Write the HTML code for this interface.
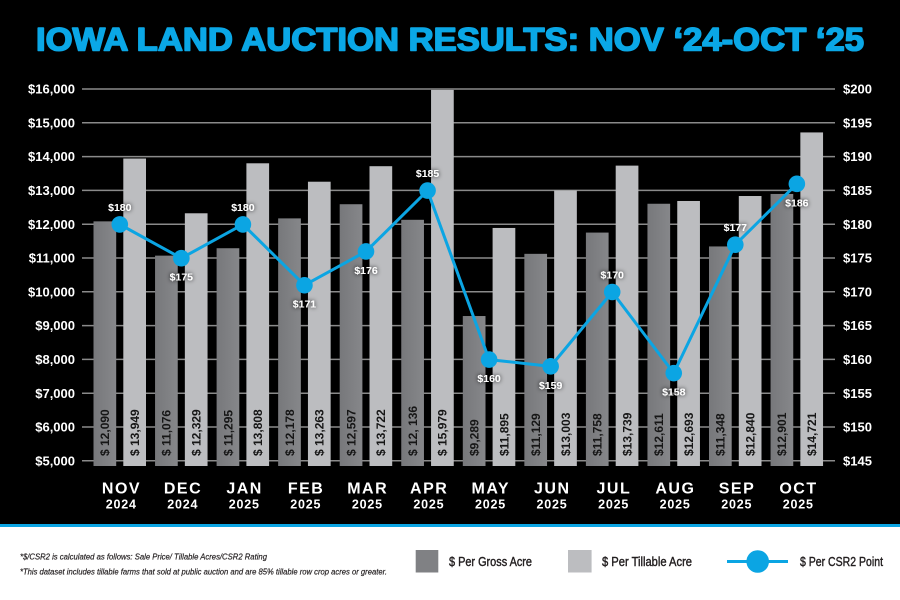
<!DOCTYPE html>
<html><head><meta charset="utf-8"><style>
html,body{margin:0;padding:0;background:#fff;}
svg{display:block;}
text{font-family:"Liberation Sans",Arial,sans-serif;}
</style></head><body>
<svg width="900" height="600" viewBox="0 0 900 600" xmlns="http://www.w3.org/2000/svg">
<defs>
<filter id="glow" x="-50%" y="-80%" width="200%" height="260%">
<feDropShadow dx="0" dy="0" stdDeviation="2" flood-color="#000" flood-opacity="0.9"/>
</filter>
<linearGradient id="gg" x1="0" y1="0" x2="1" y2="0">
<stop offset="0" stop-color="#77787b"/><stop offset="1" stop-color="#86878a"/>
</linearGradient>
</defs>
<rect x="0" y="0" width="900" height="524" fill="#000"/>
<rect x="0" y="524" width="900" height="3" fill="#0ba5e3"/>
<rect x="0" y="527" width="900" height="73" fill="#fff"/>

<text x="36" y="50.5" font-size="32" font-weight="bold" fill="#0aa7e6" stroke="#0aa7e6" stroke-width="1.6" stroke-linejoin="round" textLength="828" lengthAdjust="spacingAndGlyphs">IOWA LAND AUCTION RESULTS: NOV ‘24-OCT ‘25</text>

<g stroke="#8a8a8a" stroke-width="1.5">
<line x1="82" y1="89" x2="835" y2="89"/>
<line x1="82" y1="122.8" x2="835" y2="122.8"/>
<line x1="82" y1="156.6" x2="835" y2="156.6"/>
<line x1="82" y1="190.4" x2="835" y2="190.4"/>
<line x1="82" y1="224.2" x2="835" y2="224.2"/>
<line x1="82" y1="258" x2="835" y2="258"/>
<line x1="82" y1="291.8" x2="835" y2="291.8"/>
<line x1="82" y1="325.6" x2="835" y2="325.6"/>
<line x1="82" y1="359.4" x2="835" y2="359.4"/>
<line x1="82" y1="393.2" x2="835" y2="393.2"/>
<line x1="82" y1="427" x2="835" y2="427"/>
<line x1="82" y1="460.8" x2="835" y2="460.8"/>
</g>

<g fill="#fff" font-size="13" font-weight="bold" text-anchor="end">
<text x="75" y="93.6">$16,000</text>
<text x="75" y="127.4">$15,000</text>
<text x="75" y="161.2">$14,000</text>
<text x="75" y="195">$13,000</text>
<text x="75" y="228.8">$12,000</text>
<text x="75" y="262.6">$11,000</text>
<text x="75" y="296.4">$10,000</text>
<text x="75" y="330.2">$9,000</text>
<text x="75" y="364">$8,000</text>
<text x="75" y="397.8">$7,000</text>
<text x="75" y="431.6">$6,000</text>
<text x="75" y="465.4">$5,000</text>
</g>
<g fill="#fff" font-size="13" font-weight="bold">
<text x="843" y="93.6">$200</text>
<text x="843" y="127.4">$195</text>
<text x="843" y="161.2">$190</text>
<text x="843" y="195">$185</text>
<text x="843" y="228.8">$180</text>
<text x="843" y="262.6">$175</text>
<text x="843" y="296.4">$170</text>
<text x="843" y="330.2">$165</text>
<text x="843" y="364">$160</text>
<text x="843" y="397.8">$155</text>
<text x="843" y="431.6">$150</text>
<text x="843" y="465.4">$145</text>
</g>

<!-- gross bars -->
<g fill="url(#gg)">
<rect x="93.5" y="221.36" width="22.7" height="244.64"/>
<rect x="155.05" y="255.63" width="22.7" height="210.37"/>
<rect x="216.6" y="248.23" width="22.7" height="217.77"/>
<rect x="278.15" y="218.38" width="22.7" height="247.62"/>
<rect x="339.7" y="204.22" width="22.7" height="261.78"/>
<rect x="401.25" y="219.8" width="22.7" height="246.2"/>
<rect x="462.8" y="316.03" width="22.7" height="149.97"/>
<rect x="524.35" y="253.84" width="22.7" height="212.16"/>
<rect x="585.9" y="232.58" width="22.7" height="233.42"/>
<rect x="647.45" y="203.75" width="22.7" height="262.25"/>
<rect x="709" y="246.44" width="22.7" height="219.56"/>
<rect x="770.55" y="193.95" width="22.7" height="272.05"/>
</g>
<!-- tillable bars -->
<g fill="#bcbdc0">
<rect x="123.3" y="158.52" width="22.7" height="307.48"/>
<rect x="184.85" y="213.28" width="22.7" height="252.72"/>
<rect x="246.4" y="163.29" width="22.7" height="302.71"/>
<rect x="307.95" y="181.71" width="22.7" height="284.29"/>
<rect x="369.5" y="166.2" width="22.7" height="299.8"/>
<rect x="431.05" y="89.91" width="22.7" height="376.09"/>
<rect x="492.6" y="227.95" width="22.7" height="238.05"/>
<rect x="554.15" y="190.5" width="22.7" height="275.5"/>
<rect x="615.7" y="165.62" width="22.7" height="300.38"/>
<rect x="677.25" y="200.98" width="22.7" height="265.02"/>
<rect x="738.8" y="196.01" width="22.7" height="269.99"/>
<rect x="800.35" y="132.43" width="22.7" height="333.57"/>
</g>

<!-- value labels -->
<g fill="#161616" font-size="12" font-weight="bold">
<text transform="translate(109.15,456) rotate(-90)">$ 12,090</text>
<text transform="translate(138.95,456) rotate(-90)">$ 13,949</text>
<text transform="translate(170.7,456) rotate(-90)">$ 11,076</text>
<text transform="translate(200.5,456) rotate(-90)">$ 12,329</text>
<text transform="translate(232.25,456) rotate(-90)">$ 11,295</text>
<text transform="translate(262.05,456) rotate(-90)">$ 13,808</text>
<text transform="translate(293.8,456) rotate(-90)">$ 12,178</text>
<text transform="translate(323.6,456) rotate(-90)">$ 13,263</text>
<text transform="translate(355.35,456) rotate(-90)">$ 12,597</text>
<text transform="translate(385.15,456) rotate(-90)">$ 13,722</text>
<text transform="translate(416.9,456) rotate(-90)">$ 12, 136</text>
<text transform="translate(446.7,456) rotate(-90)">$ 15,979</text>
<text transform="translate(478.45,456) rotate(-90)">$9,289</text>
<text transform="translate(508.25,456) rotate(-90)">$11,895</text>
<text transform="translate(540,456) rotate(-90)">$11,129</text>
<text transform="translate(569.8,456) rotate(-90)">$13,003</text>
<text transform="translate(601.55,456) rotate(-90)">$11,758</text>
<text transform="translate(631.35,456) rotate(-90)">$13,739</text>
<text transform="translate(663.1,456) rotate(-90)">$12,611</text>
<text transform="translate(692.9,456) rotate(-90)">$12,693</text>
<text transform="translate(724.65,456) rotate(-90)">$11,348</text>
<text transform="translate(754.45,456) rotate(-90)">$12,840</text>
<text transform="translate(786.2,456) rotate(-90)">$12,901</text>
<text transform="translate(816,456) rotate(-90)">$14,721</text>
</g>

<!-- CSR2 line -->
<polyline fill="none" stroke="#0ba5e3" stroke-width="3" stroke-linejoin="round"
points="119.8,224.4 181.35,258.2 242.9,224.4 304.45,285.24 366,251.44 427.55,190.6 489.1,359.6 550.65,366.36 612.2,292 673.75,373.12 735.3,244.68 796.85,183.84"/>
<g fill="#0ba5e3">
<circle cx="119.8" cy="224.4" r="8.3"/>
<circle cx="181.35" cy="258.2" r="8.3"/>
<circle cx="242.9" cy="224.4" r="8.3"/>
<circle cx="304.45" cy="285.24" r="8.3"/>
<circle cx="366" cy="251.44" r="8.3"/>
<circle cx="427.55" cy="190.6" r="8.3"/>
<circle cx="489.1" cy="359.6" r="8.3"/>
<circle cx="550.65" cy="366.36" r="8.3"/>
<circle cx="612.2" cy="292" r="8.3"/>
<circle cx="673.75" cy="373.12" r="8.3"/>
<circle cx="735.3" cy="244.68" r="8.3"/>
<circle cx="796.85" cy="183.84" r="8.3"/>
</g>
<g fill="#fff" font-size="10.5" font-weight="bold" text-anchor="middle" filter="url(#glow)">
<text x="119.8" y="210.9">$180</text>
<text x="181.35" y="280.7">$175</text>
<text x="242.9" y="210.9">$180</text>
<text x="304.45" y="307.7">$171</text>
<text x="366" y="273.9">$176</text>
<text x="427.55" y="177.1">$185</text>
<text x="489.1" y="382.1">$160</text>
<text x="550.65" y="388.9">$159</text>
<text x="612.2" y="278.5">$170</text>
<text x="673.75" y="395.6">$158</text>
<text x="735.3" y="231.2">$177</text>
<text x="796.85" y="206.3">$186</text>
</g>

<!-- month labels -->
<g fill="#fff" font-weight="bold" text-anchor="middle">
<g font-size="16" letter-spacing="1.5">
<text x="121.5" y="493.3">NOV</text>
<text x="183" y="493.3">DEC</text>
<text x="244.6" y="493.3">JAN</text>
<text x="306.1" y="493.3">FEB</text>
<text x="367.7" y="493.3">MAR</text>
<text x="429.2" y="493.3">APR</text>
<text x="490.8" y="493.3">MAY</text>
<text x="552.3" y="493.3">JUN</text>
<text x="613.9" y="493.3">JUL</text>
<text x="675.4" y="493.3">AUG</text>
<text x="737" y="493.3">SEP</text>
<text x="798.5" y="493.3">OCT</text>
</g>
<g font-size="12.5" letter-spacing="0.8">
<text x="121.2" y="508.3">2024</text>
<text x="182.7" y="508.3">2024</text>
<text x="244.3" y="508.3">2025</text>
<text x="305.8" y="508.3">2025</text>
<text x="367.4" y="508.3">2025</text>
<text x="428.9" y="508.3">2025</text>
<text x="490.5" y="508.3">2025</text>
<text x="552" y="508.3">2025</text>
<text x="613.6" y="508.3">2025</text>
<text x="675.1" y="508.3">2025</text>
<text x="736.7" y="508.3">2025</text>
<text x="798.2" y="508.3">2025</text>
</g>
</g>

<!-- footnotes -->
<g fill="#231f20" font-size="8.5" font-style="italic" stroke="#231f20" stroke-width="0.2">
<text x="20" y="559.5" textLength="247" lengthAdjust="spacingAndGlyphs">*$/CSR2 is calculated as follows: Sale Price/ Tillable Acres/CSR2 Rating</text>
<text x="20" y="574.5" textLength="367" lengthAdjust="spacingAndGlyphs">*This dataset includes tillable farms that sold at public auction and are 85% tillable row crop acres or greater.</text>
</g>

<!-- legend -->
<rect x="415.7" y="550" width="22.6" height="22.5" fill="#808184"/>
<rect x="568" y="550" width="23.6" height="22.5" fill="#bcbdc0"/>
<line x1="727" y1="561.5" x2="788" y2="561.5" stroke="#0ba5e3" stroke-width="3"/>
<circle cx="757.7" cy="561.5" r="11.3" fill="#0ba5e3"/>
<g font-size="12.5" fill="#231f20" stroke="#231f20" stroke-width="0.4">
<text x="449" y="565.8" textLength="83" lengthAdjust="spacingAndGlyphs">$ Per Gross Acre</text>
<text x="602" y="565.8" textLength="90" lengthAdjust="spacingAndGlyphs">$ Per Tillable Acre</text>
<text x="800" y="565.8" textLength="83" lengthAdjust="spacingAndGlyphs">$ Per CSR2 Point</text>
</g>
</svg>
</body></html>
